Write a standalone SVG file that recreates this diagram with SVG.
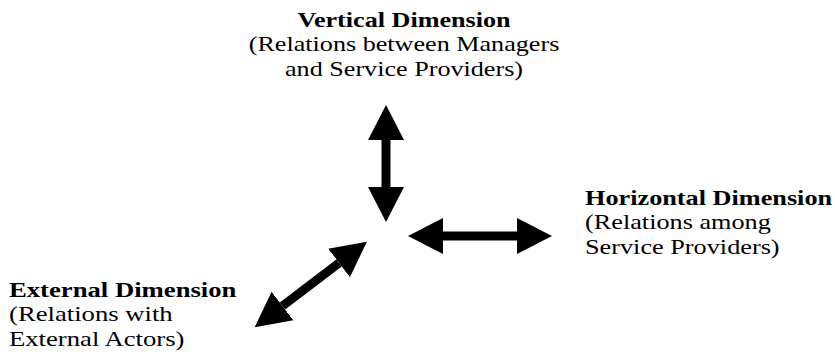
<svg xmlns="http://www.w3.org/2000/svg" width="835" height="360" viewBox="0 0 835 360">
<defs>
<marker id="head" markerUnits="userSpaceOnUse" markerWidth="36" markerHeight="38" viewBox="0 -19 36 38" refX="0" refY="0" orient="auto-start-reverse">
<path d="M0,-18 L35,0 L0,18 z" fill="#000"/>
</marker>
<style>
text{font-family:"Liberation Serif","Times New Roman",serif;font-size:21px;fill:#000}
.b{font-weight:bold}
.c{text-anchor:middle}
.arrow{stroke:#000;stroke-width:9;fill:none;marker-start:url(#head);marker-end:url(#head)}
</style>
</defs>
<rect width="835" height="360" fill="#fff"/>
<g id="vertical" transform="translate(404,0) scale(1.245,1)">
<text class="b c" x="0" y="27">Vertical Dimension</text>
<text class="c" x="0" y="51">(Relations between Managers</text>
<text class="c" x="0" y="76">and Service Providers)</text>
</g>
<g id="horizontal" transform="translate(585,0) scale(1.25,1)">
<text class="b" x="0" y="205">Horizontal Dimension</text>
<text x="0" y="229">(Relations among</text>
<text x="0" y="254">Service Providers)</text>
</g>
<g id="external" transform="translate(9,0) scale(1.27,1)">
<text class="b" x="0" y="297">External Dimension</text>
<text x="0" y="321">(Relations with</text>
<text x="0" y="346">External Actors)</text>
</g>
<g id="connectors">
<line class="arrow" x1="386" y1="140" x2="386" y2="187"/>
<line class="arrow" x1="443" y1="236" x2="517" y2="236"/>
<line class="arrow" x1="339" y1="263" x2="282.5" y2="306"/>
</g>
</svg>
